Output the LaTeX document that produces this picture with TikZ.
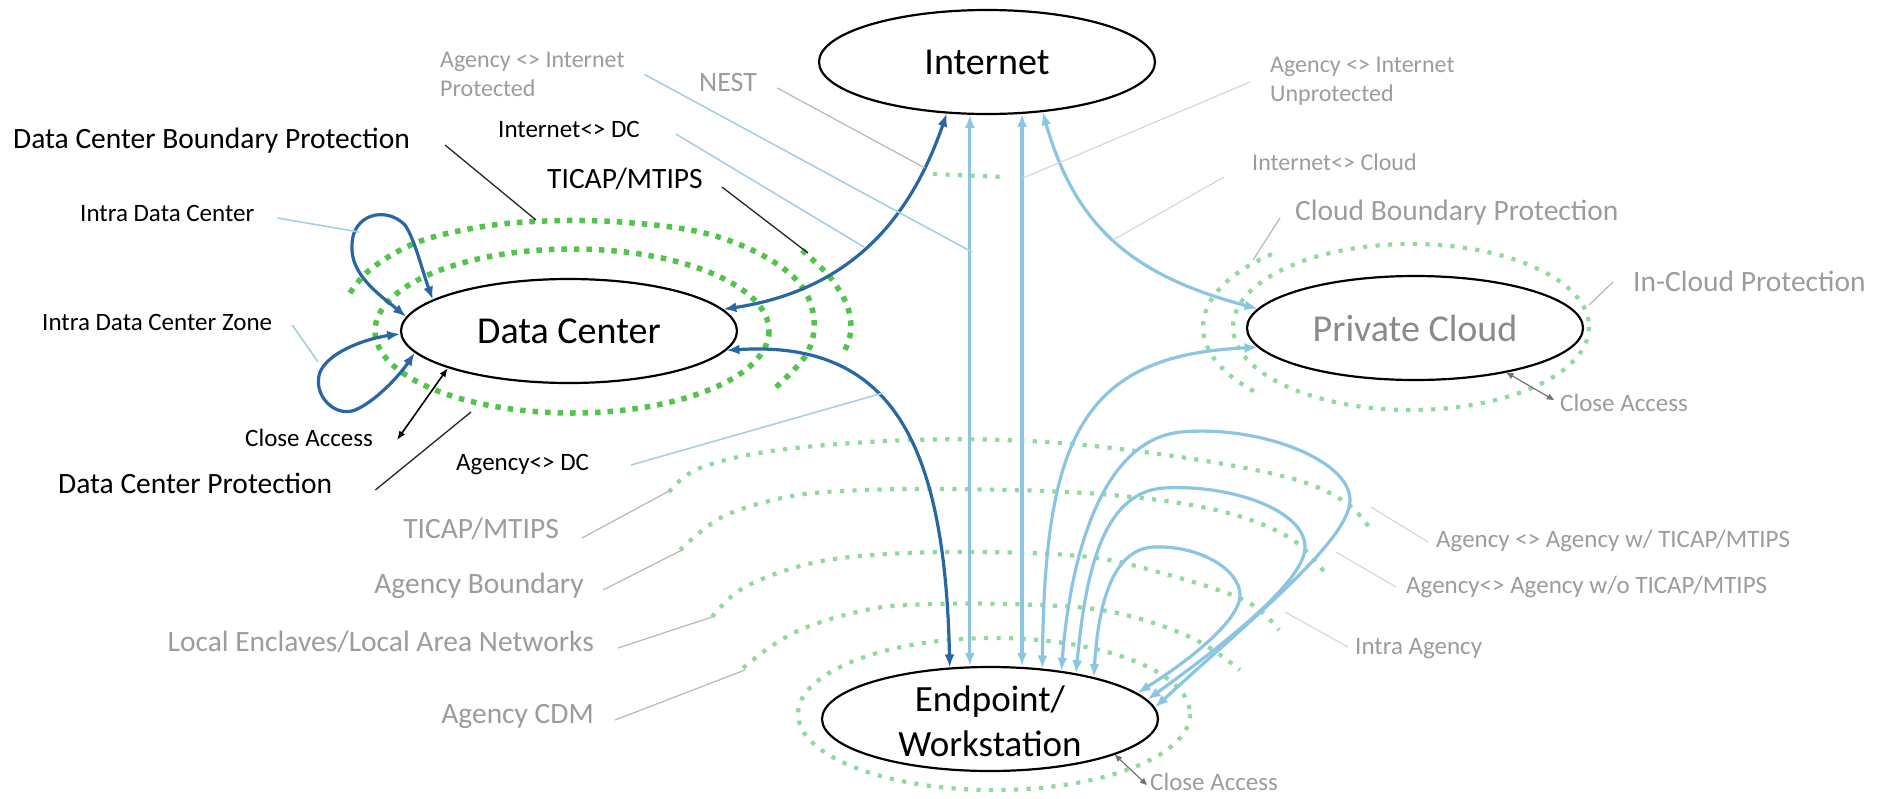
\documentclass[tikz,border=0pt]{standalone}
\usepackage{fontspec}
\setmainfont{Carlito}
\usetikzlibrary{arrows.meta,shapes.geometric,calc}
\definecolor{darkblue}{HTML}{2967A3}
\definecolor{lightblue}{HTML}{8CC5E2}
\definecolor{callblue}{HTML}{A6CFE4}
\definecolor{labelgray}{HTML}{9C9C9C}
\definecolor{callgray}{HTML}{B8B8B8}
\definecolor{faintgray}{HTML}{D4D4D4}
\definecolor{dcgreen}{HTML}{52C34B}
\definecolor{ltgreen}{HTML}{90DA9D}
\definecolor{nodegray}{HTML}{8A8A8A}

\tikzset{
  hub/.style={ellipse, draw=black, line width=2.2pt, fill=white,
    minimum width=336pt, minimum height=104pt, inner sep=0pt,
    font=\fontsize{38}{45}\selectfont},
  txtA/.style={inner sep=0pt, text height=0.64em, text depth=0pt,
    font=\fontsize{25}{30}\selectfont},
  txtB/.style={inner sep=0pt, text height=0.64em, text depth=0pt,
    font=\fontsize{29.5}{35}\selectfont},
  txtML/.style={inner sep=0pt, align=left, font=\fontsize{24}{29}\selectfont},
  graytxt/.style={text=labelgray},
  dcring/.style={draw=dcgreen, line width=5.5pt, dash pattern=on 5.5pt off 7pt},
  ring/.style={draw=ltgreen, line width=4.2pt, dash pattern=on 4.2pt off 8.3pt},
  darkflow/.style={draw=darkblue, line width=3.2pt,
    arrows={Latex[length=13pt,width=10pt]-Latex[length=13pt,width=10pt]}},
  lightflow/.style={draw=lightblue, line width=3.2pt,
    arrows={Latex[length=13pt,width=10pt]-Latex[length=13pt,width=10pt]}},
  closeblack/.style={draw=black, line width=1.6pt,
    arrows={Latex[length=9pt,width=7pt]-Latex[length=9pt,width=7pt]}},
  closegray/.style={draw=black!55, line width=1.2pt,
    arrows={Triangle[length=7pt,width=6pt]-Triangle[length=7pt,width=6pt]}},
  callblack/.style={draw=black!85, line width=1.3pt},
  callblu/.style={draw=callblue, line width=1.6pt},
  callgry/.style={draw=callgray, line width=1.2pt},
  callfaint/.style={draw=faintgray, line width=1.1pt}
}

\begin{document}
\begin{tikzpicture}[x=1pt,y=-1pt]
\useasboundingbox (0,0) rectangle (1886,798);
\fill[white] (0,0) rectangle (1886,798);

% ---- protection rings: data center ----
\draw[dcring] (572,331) ellipse [x radius=197, y radius=82];
\draw[dcring] plot[smooth, tension=0.6] coordinates {(350,293) (372,268) (418,242) (480,227) (545,221) (620,222) (700,232) (760,254) (800,284) (814,320) (806,355) (775,388)};
\draw[dcring] plot[smooth] coordinates {(802,250) (830,277) (847,305) (851,330) (845,350)};

% ---- NEST segment ----
\draw[ring] (933,174) -- (1005,177);

% ---- protection rings: private cloud ----
\draw[ring] (1411,327) ellipse [x radius=178, y radius=83];
\draw[ring] plot[domain=132:222, samples=40] ({1411+208*cos(\x)},{327-98*sin(\x)});

% ---- protection rings: agency / endpoint ----
\draw[ring] plot[smooth, tension=0.6] coordinates {(669,492) (700,468) (779,450) (912,440) (1046,442) (1180,457) (1290,478) (1345,502) (1371,530)};
\draw[ring] plot[smooth, tension=0.6] coordinates {(680,550) (722,517) (782,498) (842,491) (950,489) (1100,494) (1216,510) (1290,538) (1328,577)};
\draw[ring] plot[smooth, tension=0.6] coordinates {(712,617) (740,590) (790,569) (850,557) (950,552) (1080,556) (1158,572) (1244,600) (1279,630)};
\draw[ring] plot[smooth, tension=0.6] coordinates {(743,668) (773,645) (807,627) (857,612) (907,605) (1007,604) (1107,611) (1190,637) (1240,670)};
\draw[ring] (994,714) ellipse [x radius=196, y radius=76];

% ---- main nodes ----
\node[hub] (inet) at (987,62) {Internet};
\node[hub] (dc) at (569,331) {Data Center};
\node[hub, text=nodegray] (pc) at (1415,328) {Private Cloud};
\node[hub] (ep) at (990,719) {};
\node[inner sep=0pt, align=center, font=\fontsize{37}{45}\selectfont] (eptext) at (990,721) {Endpoint/\\Workstation};

% ---- data center flows ----
\draw[darkflow] (dc.8) .. controls (850,290) and (910,220) .. (inet.232);
\draw[darkflow] (dc.353) .. controls (890,340) and (945,440) .. (ep.128);
\draw[darkflow] (dc.175) .. controls (380,295) and (350,275) .. (352,245)
  .. controls (352,215) and (385,205) .. (405,225)
  .. controls (415,240) and (422,270) .. (dc.167);
\draw[darkflow] (dc.181) .. controls (370,338) and (330,350) .. (320,372)
  .. controls (312,395) and (335,418) .. (355,410)
  .. controls (375,402) and (400,375) .. (dc.188);

% ---- internet / cloud / agency flows ----
\draw[lightflow] (inet.252) -- (inet.252 |- ep.north);
\draw[lightflow] (inet.304) -- (inet.304 |- ep.north);
\draw[lightflow] (inet.318) .. controls (1075,225) and (1130,275) .. (pc.173);
\draw[lightflow] (ep.44) .. controls (1045,440) and (1080,355) .. (pc.187);
\draw[lightflow] (ep.34) .. controls (1070,560) and (1100,440) .. (1181,432)
  .. controls (1260,425) and (1350,460) .. (1350,500)
  .. controls (1350,540) and (1250,620) .. (ep.4);
\draw[lightflow] (ep.28) .. controls (1085,580) and (1100,492) .. (1164,488)
  .. controls (1230,484) and (1305,510) .. (1305,547)
  .. controls (1305,580) and (1230,640) .. (ep.7);
\draw[lightflow] (ep.22) .. controls (1098,610) and (1110,550) .. (1153,547)
  .. controls (1200,545) and (1240,570) .. (1240,595)
  .. controls (1240,620) and (1190,660) .. (ep.10);

% ---- close access ----
\coordinate (caDC) at (397,440);
\coordinate (caPC) at (1554,400);
\coordinate (caEP) at (1147,785);
\draw[closeblack] (dc.197) -- (caDC);
\draw[closegray] (pc.334) -- (caPC);
\draw[closegray] (ep.344) -- (caEP);

% ---- black labels ----
\node[txtB, anchor=west] (dcbp) at (13,145) {Data Center Boundary Protection};
\node[txtA, anchor=west] (idc) at (498,134) {Internet<> DC};
\node[txtB, anchor=west] (ticb) at (547,185) {TICAP/MTIPS};
\node[txtA, anchor=west] (intra) at (80,218) {Intra Data Center};
\node[txtA, anchor=west] (zone) at (42,327) {Intra Data Center Zone};
\node[txtA, anchor=west] (cadcl) at (245,443) {Close Access};
\node[txtB, anchor=west] (dcp) at (58,490) {Data Center Protection};
\node[txtA, anchor=west] (adc) at (456,467) {Agency<> DC};

% ---- gray labels ----
\node[txtML, graytxt, anchor=west] (aip) at (440,74.5) {Agency <> Internet\\Protected};
\node[txtB, graytxt, anchor=west, font=\fontsize{28}{33}\selectfont] (nest) at (699,88) {NEST};
\node[txtML, graytxt, anchor=west] (aiu) at (1270,81) {Agency <> Internet\\Unprotected};
\node[txtA, graytxt, anchor=west, font=\fontsize{24}{29}\selectfont] (icl) at (1252,167) {Internet<> Cloud};
\node[txtB, graytxt, anchor=west] (cbp) at (1295,217) {Cloud Boundary Protection};
\node[txtB, graytxt, anchor=west] (inc) at (1633,288) {In-Cloud Protection};
\node[txtA, graytxt, anchor=west] (capcl) at (1560,408) {Close Access};
\node[txtB, graytxt, anchor=east] (ticg) at (559,535) {TICAP/MTIPS};
\node[txtB, graytxt, anchor=east] (ab) at (584,590) {Agency Boundary};
\node[txtB, graytxt, anchor=east] (le) at (594,648) {Local Enclaves/Local Area Networks};
\node[txtB, graytxt, anchor=east] (cdm) at (594,720) {Agency CDM};
\node[txtA, graytxt, anchor=west] (aaw) at (1436,544) {Agency <> Agency w/ TICAP/MTIPS};
\node[txtA, graytxt, anchor=west] (aawo) at (1406,590) {Agency<> Agency w/o TICAP/MTIPS};
\node[txtA, graytxt, anchor=west] (ia) at (1355,651) {Intra Agency};
\node[txtA, graytxt, anchor=west] (caepl) at (1150,787) {Close Access};

% ---- callout ends ----
\coordinate (cDCBP) at (536,220);
\coordinate (cTICb) at (808,253);
\coordinate (cDCP) at (471,412);
\coordinate (cAIP) at (972,252);
\coordinate (cIDC) at (864,247);
\coordinate (cADC) at (883,393);
\coordinate (cIntra) at (359,232);
\coordinate (cZone) at (318,362);
\coordinate (cNEST) at (925,168);
\coordinate (cUnp) at (1023,178);
\coordinate (cICl) at (1113,240);
\coordinate (cCBP) at (1253,260);
\coordinate (cInC) at (1589,305);
\coordinate (cTICg) at (671,490);
\coordinate (cAB) at (682,550);
\coordinate (cLE) at (712,617);
\coordinate (cCDM) at (745,670);
\coordinate (cAAw) at (1371,507);
\coordinate (cAAwo) at (1336,552);
\coordinate (cIA) at (1285,612);

% ---- callouts ----
\draw[callblack] ($(dcbp.east)+(35,0)$) -- (cDCBP);
\draw[callblack] ($(ticb.east)+(19,2)$) -- (cTICb);
\draw[callblack] ($(dcp.east)+(43,0)$) -- (cDCP);
\draw[callblu] ($(aip.east)+(20,0)$) -- (cAIP);
\draw[callblu] ($(idc.east)+(36,0)$) -- (cIDC);
\draw[callblu] ($(adc.east)+(42,-2)$) -- (cADC);
\draw[callblu] ($(intra.east)+(23,0)$) -- (cIntra);
\draw[callblu] ($(zone.east)+(20,-2)$) -- (cZone);
\draw[callgry] ($(nest.east)+(20,0)$) -- (cNEST);
\draw[callfaint] ($(aiu.west)+(-20,1)$) -- (cUnp);
\draw[callfaint] ($(icl.west)+(-28,10)$) -- (cICl);
\draw[callgry] ($(cbp.west)+(-15,1)$) -- (cCBP);
\draw[callgry] ($(inc.west)+(-20,-6)$) -- (cInC);
\draw[callgry] ($(ticg.east)+(23,3)$) -- (cTICg);
\draw[callgry] ($(ab.east)+(19,0)$) -- (cAB);
\draw[callgry] ($(le.east)+(24,0)$) -- (cLE);
\draw[callgry] ($(cdm.east)+(21,0)$) -- (cCDM);
\draw[callfaint] ($(aaw.west)+(-8,-2)$) -- (cAAw);
\draw[callfaint] ($(aawo.west)+(-10,-3)$) -- (cAAwo);
\draw[callfaint] ($(ia.west)+(-7,-4)$) -- (cIA);
\end{tikzpicture}
\end{document}
